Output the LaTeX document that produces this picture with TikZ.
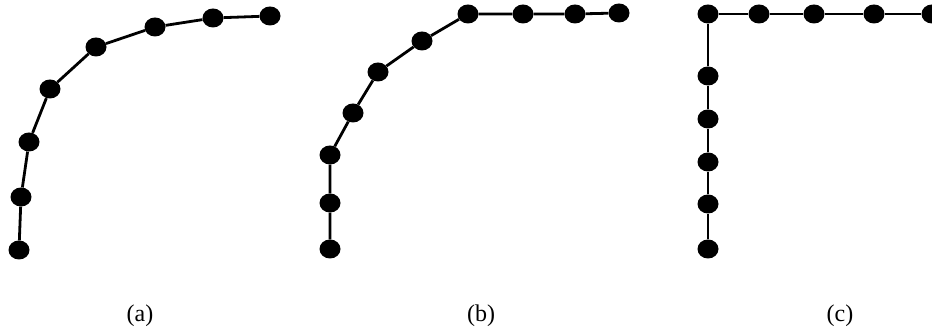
\documentclass[tikz,border=0pt]{standalone}
\usepackage{fontspec}
\setmainfont{Liberation Serif}
\usetikzlibrary{shapes.geometric}
\begin{document}
\begin{tikzpicture}[x=1pt,y=-1pt,
  dot/.style={ellipse,fill=black,minimum width=21pt,minimum height=19pt,inner sep=0pt},
  link/.style={line width=2.8pt},
  lab/.style={font=\fontsize{24}{26}\selectfont,inner sep=0pt}]
\useasboundingbox (0,0) rectangle (932,328);
% (a)
\foreach \n/\x/\y in {a1/19/250,a2/21/197,a3/29/142,a4/50/89,a5/96/47,a6/155/27,a7/213/18,a8/270/16}
  \node[dot] (\n) at (\x,\y) {};
\draw[link] (a1)--(a2)--(a3)--(a4)--(a5)--(a6)--(a7)--(a8);
% (b)
\foreach \n/\x/\y in {b1/330/249,b2/330/203,b3/330/155,b4/353/113,b5/378/72,b6/422/41,b7/468/14,b8/523/14,b9/575/14,b10/619/13}
  \node[dot] (\n) at (\x,\y) {};
\draw[link] (b1)--(b2)--(b3)--(b4)--(b5)--(b6)--(b7)--(b8)--(b9)--(b10);
% (c)
\foreach \n/\x/\y in {c1/708/249,c2/708/204,c3/708/162,c4/708/119,c5/708/76,c6/708/14,c7/759/14,c8/814/14,c9/874/14,c10/932/14}
  \node[dot] (\n) at (\x,\y) {};
\draw[link] (c1)--(c2)--(c3)--(c4)--(c5)--(c6)--(c7)--(c8)--(c9)--(c10);
% labels
\node[lab] (la) at (140,316) {(a)};
\node[lab] (lb) at (481,316) {(b)};
\node[lab] (lc) at (840,316) {(c)};
\end{tikzpicture}
\end{document}
